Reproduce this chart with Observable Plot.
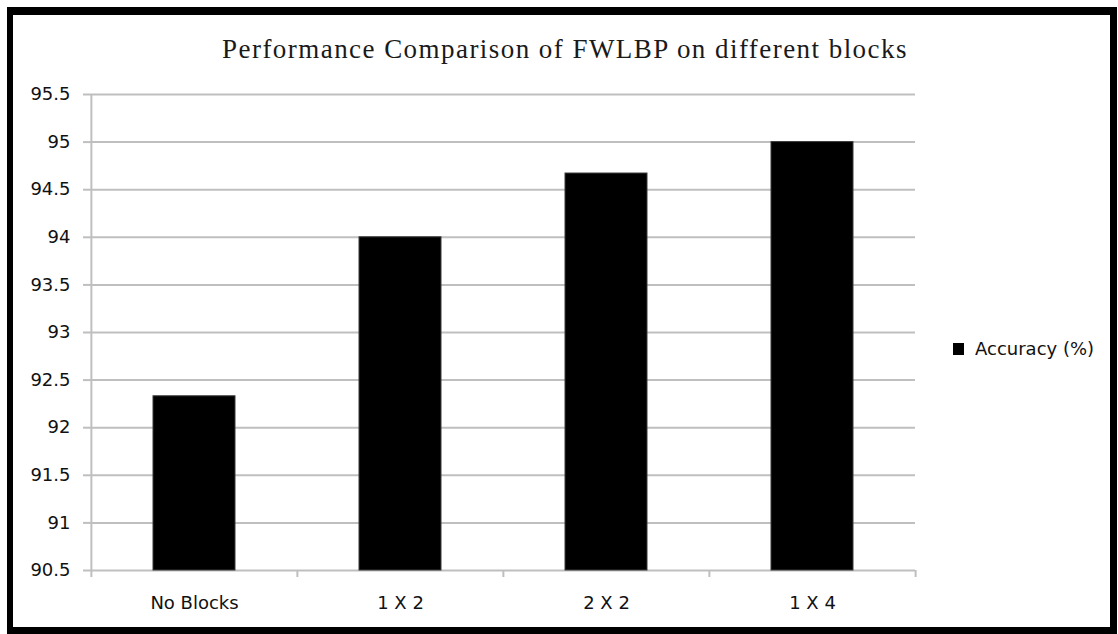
<!DOCTYPE html>
<html>
<head>
<meta charset="utf-8">
<script src="https://cdn.jsdelivr.net/npm/d3@7"></script>
<script src="https://cdn.jsdelivr.net/npm/@observablehq/plot@0.6"></script>
<style>
  html, body { margin: 0; padding: 0; background: #fff; }
  #chart { position: relative; width: 1118px; height: 634px; overflow: hidden; background: #fff; }
  #frame {
    position: absolute; left: 7px; top: 7px; width: 1110px; height: 627px;
    box-sizing: border-box; border-style: solid; border-color: #000;
    border-width: 8px 7px 7px 6px; pointer-events: none; z-index: 3;
  }
  #title {
    position: absolute; left: 0; width: 1130px; top: 34px; text-align: center;
    font-family: "Liberation Serif", serif; font-size: 27px; letter-spacing: 1.45px;
    color: #1a1a1a; z-index: 2; white-space: nowrap;
  }
  #plot { position: absolute; left: 0; top: 70px; }
  #legend {
    position: absolute; left: 953px; top: 338px; display: flex; align-items: center;
    font-family: "DejaVu Sans", sans-serif; font-size: 18px; color: #111; z-index: 2;
  }
  #legend .sw { width: 11px; height: 12px; background: #000; margin-right: 11px; }
</style>
</head>
<body>
<div id="chart">
  <div id="frame"></div>
  <div id="title"></div>
  <div id="plot"></div>
  <div id="legend"></div>
</div>
<script>
// Accuracy of FWLBP for each block layout
const blocks = ["No Blocks", "1 X 2", "2 X 2", "1 X 4"];
const accuracy = [92.33, 94.0, 94.67, 95.0];
const yTicks = [90.5, 91, 91.5, 92, 92.5, 93, 93.5, 94, 94.5, 95, 95.5];
const seriesName = "Accuracy (%)";
const titleText = "Performance Comparison of FWLBP on different blocks";

const data = blocks.map((b, i) => ({block: b, accuracy: accuracy[i]}));

const width = 1118, height = 564;
const margin = {top: 24, right: 203, bottom: 64, left: 90};
const yMin = yTicks[0], yMax = yTicks[yTicks.length - 1];
const pxPerUnit = (height - margin.top - margin.bottom) / (yMax - yMin);
const half = (width - margin.left - margin.right) / blocks.length / 2;
const tickLen = 7;
const gridColor = "#bfbfbf";

document.getElementById("title").textContent = titleText;
document.getElementById("legend").innerHTML =
  `<div class="sw"></div><span>${seriesName}</span>`;

const chart = Plot.plot({
  width, height,
  marginTop: margin.top, marginRight: margin.right,
  marginBottom: margin.bottom, marginLeft: margin.left,
  style: {fontFamily: "DejaVu Sans, sans-serif", fontSize: "18px", color: "#111", background: "transparent"},
  x: {type: "band", domain: blocks, padding: 0},
  y: {domain: [yMin, yMax]},
  marks: [
    Plot.gridY(yTicks, {stroke: gridColor, strokeOpacity: 1, strokeWidth: 2}),
    // category boundary ticks below the baseline; the first one doubles as the y axis line
    Plot.ruleX(blocks, {
      x: d => d, dx: -half,
      y1: (d, i) => i === 0 ? yMax : yMin,
      y2: yMin - tickLen / pxPerUnit,
      stroke: gridColor, strokeWidth: 2
    }),
    Plot.ruleX([blocks[blocks.length - 1]], {
      x: d => d, dx: half, y1: yMin, y2: yMin - tickLen / pxPerUnit,
      stroke: gridColor, strokeWidth: 2
    }),
    Plot.barY(data, {
      x: "block", y1: yMin, y2: "accuracy",
      fill: "#000", stroke: "#3a3a3a", strokeWidth: 1,
      insetLeft: 62, insetRight: 62
    }),
    Plot.axisY(yTicks, {
      tickSize: tickLen, tickPadding: 13, tickFormat: d => String(d),
      stroke: gridColor, strokeWidth: 2, fill: "#111", label: null
    }),
    Plot.axisX({tickSize: 0, tickPadding: 26, fill: "#111", label: null})
  ]
});
document.getElementById("plot").appendChild(chart);
</script>
</body>
</html>
